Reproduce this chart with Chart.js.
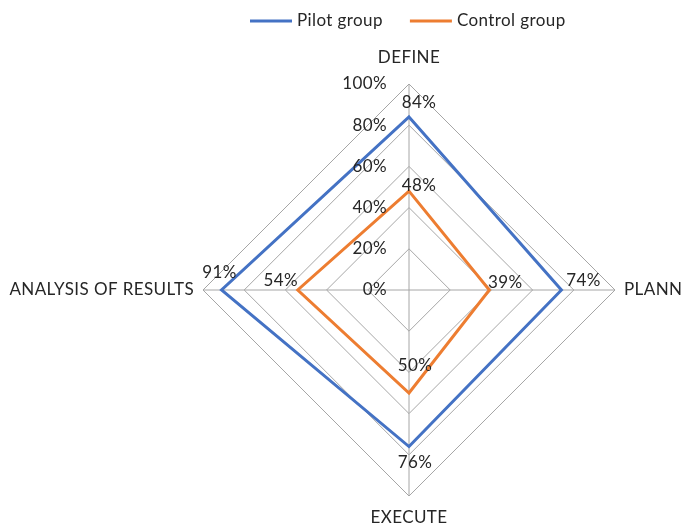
<!DOCTYPE html>
<html>
<head>
<meta charset="utf-8">
<script src="https://cdn.jsdelivr.net/npm/chart.js@4.4.0/dist/chart.umd.min.js"></script>
<style>
  html, body { margin: 0; padding: 0; background: #fff; }
</style>
</head>
<body>
<canvas id="radar" width="681" height="525"></canvas>
<script>
// data
const categories = ["DEFINE", "PLANN", "EXECUTE", "ANALYSIS OF RESULTS"];
const pilotGroup = [84, 74, 76, 91];
const controlGroup = [48, 39, 50, 54];
const tickValues = [0, 20, 40, 60, 80, 100];

const FONT = "Lato, 'Open Sans', sans-serif";
const TEXT = "#262626";

// where each value label sits relative to its point (Excel puts them a bit arbitrarily)
const labelOffsets = [
  [[10, -14], [22, -9], [6, 16], [-2, -17]],
  [[10, -6], [16, -7], [6, -27], [-17, -9]]
];

const overlay = {
  id: "overlay",
  afterDatasetsDraw(chart) {
    const ctx = chart.ctx;
    const r = chart.scales.r;
    ctx.save();
    ctx.font = "17px " + FONT;
    ctx.letterSpacing = "0.4px";
    ctx.fillStyle = TEXT;
    ctx.textBaseline = "middle";

    // tick labels, left of the vertical axis
    ctx.textAlign = "right";
    tickValues.forEach(v => {
      const d = r.getDistanceFromCenterForValue(v);
      ctx.fillText(v + "%", r.xCenter - 22, r.yCenter - d);
    });

    // axis (point) labels
    const gaps = [26, 9, 22, 9];
    const aligns = ["center", "left", "center", "right"];
    categories.forEach((c, i) => {
      const p = r.getPointPosition(i, r.drawingArea + gaps[i]);
      ctx.textAlign = aligns[i];
      ctx.fillText(c, p.x, p.y);
    });

    // value labels
    ctx.textAlign = "center";
    chart.data.datasets.forEach((ds, di) => {
      ds.data.forEach((v, i) => {
        const p = r.getPointPosition(i, r.getDistanceFromCenterForValue(v));
        const off = labelOffsets[di][i];
        ctx.fillText(v + "%", p.x + off[0], p.y + off[1]);
      });
    });

    // legend
    let x = 250;
    const y = 21;
    ctx.textAlign = "left";
    chart.data.datasets.forEach(ds => {
      ctx.strokeStyle = ds.borderColor;
      ctx.lineWidth = 3;
      ctx.beginPath();
      ctx.moveTo(x, y);
      ctx.lineTo(x + 42, y);
      ctx.stroke();
      ctx.fillText(ds.label, x + 47, y);
      x += 47 + ctx.measureText(ds.label).width + 27;
    });
    ctx.restore();
  }
};

new Chart(document.getElementById("radar"), {
  type: "radar",
  data: {
    labels: categories,
    datasets: [
      {
        label: "Pilot group",
        data: pilotGroup,
        borderColor: "#4472C4",
        borderWidth: 3,
        fill: false,
        pointRadius: 0,
        pointHoverRadius: 0
      },
      {
        label: "Control group",
        data: controlGroup,
        borderColor: "#ED7D31",
        borderWidth: 3,
        fill: false,
        pointRadius: 0,
        pointHoverRadius: 0
      }
    ]
  },
  options: {
    responsive: false,
    animation: false,
    layout: { padding: { left: 203, right: 66, top: 84, bottom: 29 } },
    plugins: {
      legend: { display: false },
      tooltip: { enabled: false }
    },
    scales: {
      r: {
        min: 0,
        max: 100,
        ticks: { stepSize: 20, display: false },
        pointLabels: { display: false },
        grid: { color: "#a6a6a6", lineWidth: 1 },
        angleLines: { color: "#a6a6a6", lineWidth: 1 }
      }
    }
  },
  plugins: [overlay]
});
</script>
</body>
</html>
